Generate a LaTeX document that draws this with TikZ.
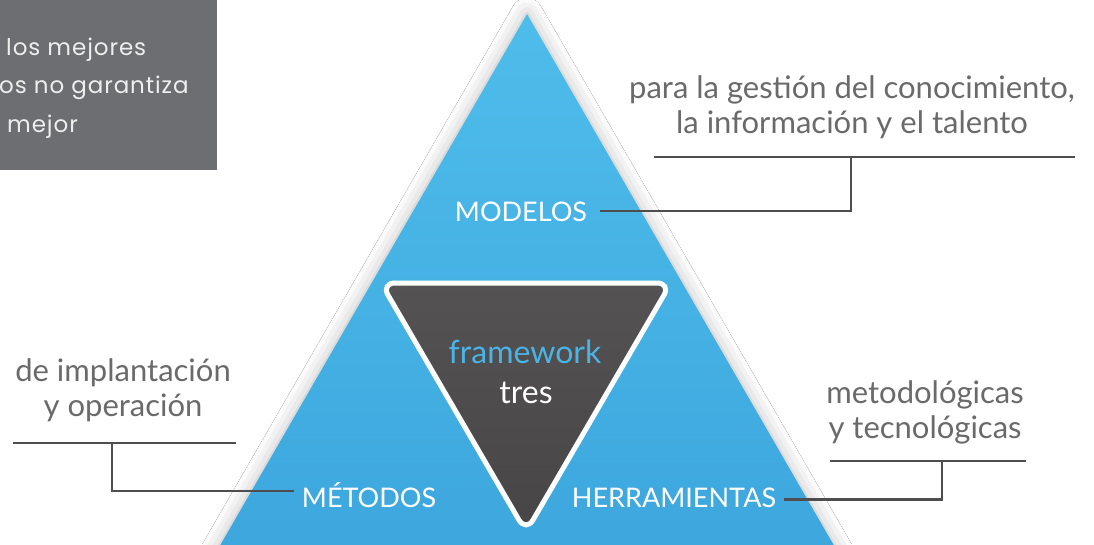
\documentclass[tikz,border=0pt]{standalone}
\usepackage{fontspec}
\setmainfont{Lato}
\newfontfamily\boxfont{Poppins}[LetterSpace=4]
\usetikzlibrary{shadows.blur}

\definecolor{boxgray}{HTML}{6D6E72}
\definecolor{descgray}{HTML}{6A6A6A}
\definecolor{linegray}{HTML}{4E4E4E}
\definecolor{triblue}{HTML}{4EBDEB}
\definecolor{tribluedark}{HTML}{3BA4DC}
\definecolor{innerdark}{HTML}{474545}
\definecolor{innerlight}{HTML}{545253}
\definecolor{fwblue}{HTML}{4AB4E6}

\tikzset{
  label/.style={text=white, inner sep=0pt, anchor=base, font=\fontsize{27}{32}\selectfont},
  desc/.style={text=descgray, align=center, inner sep=0pt, font=\fontsize{31}{35}\selectfont},
  leader/.style={draw=linegray, line width=2.4pt},
  boxtext/.style={text=white!88!boxgray, inner sep=0pt, anchor=base west, font=\boxfont\fontsize{23}{24}\selectfont},
}

\begin{document}
\begin{tikzpicture}[x=1pt,y=-1pt]
  \clip (0,0) rectangle (1094,544);
  \fill[white] (0,0) rectangle (1094,544);

  % quote box, cut at the left border
  \fill[boxgray] (0,0) rectangle (217,170);
  \node[boxtext] (boxa) at (6,55) {los mejores};
  \node[boxtext] (boxb) at (-1,93) {os no garantiza};
  \node[boxtext] (boxc) at (7,132) {mejor};

  % pyramid
  \shade[top color=triblue, bottom color=tribluedark,
    blur shadow={shadow xshift=0pt, shadow yshift=0pt, shadow blur radius=16pt, shadow opacity=28}]
    (527,14) -- (877,620) -- (177,620) -- cycle;
  \shadedraw[top color=innerlight, bottom color=innerdark, draw=white, line width=5pt, rounded corners=14pt]
    (381,283) -- (671,283) -- (526,532) -- cycle;
  \node[text=fwblue, inner sep=0pt, anchor=base, font=\fontsize{32}{36}\selectfont] (fw) at (525,363) {framework};
  \node[text=white, inner sep=0pt, anchor=base, font=\fontsize{32}{36}\selectfont] (tres) at (526,403) {tres};

  \node[label] (modelos) at (521,221) {MODELOS};
  \node[label] (metodos) at (369,507) {MÉTODOS};
  \node[label] (herram) at (674,507) {HERRAMIENTAS};

  \node[desc] (gestion) at (852,107) {para la gestión del conocimiento,\\la información y el talento};
  \node[desc] (implant) at (123,390) {de implantación\\y operación};
  \node[desc] (tecno) at (925,412) {metodológicas\\y tecnológicas};

  \coordinate (gestionL) at (654,157);
  \coordinate (gestionR) at (1075,157);
  \coordinate (gestionT) at (851,157);
  \coordinate (implantL) at (13,443);
  \coordinate (implantR) at (236,443);
  \coordinate (implantT) at (112,443);
  \coordinate (tecnoL) at (830,461);
  \coordinate (tecnoR) at (1026,461);
  \coordinate (tecnoT) at (942,461);

  \draw[leader] (gestionL) -- (gestionR);
  \draw[leader] (implantL) -- (implantR);
  \draw[leader] (tecnoL) -- (tecnoR);
  \draw[leader] ([xshift=13pt,yshift=10pt]modelos.base east) -| (gestionT);
  \draw[leader] ([xshift=-8pt,yshift=16pt]metodos.base west) -| (implantT);
  \draw[leader] ([xshift=8pt,yshift=7.5pt]herram.base east) -| (tecnoT);
\end{tikzpicture}
\end{document}
